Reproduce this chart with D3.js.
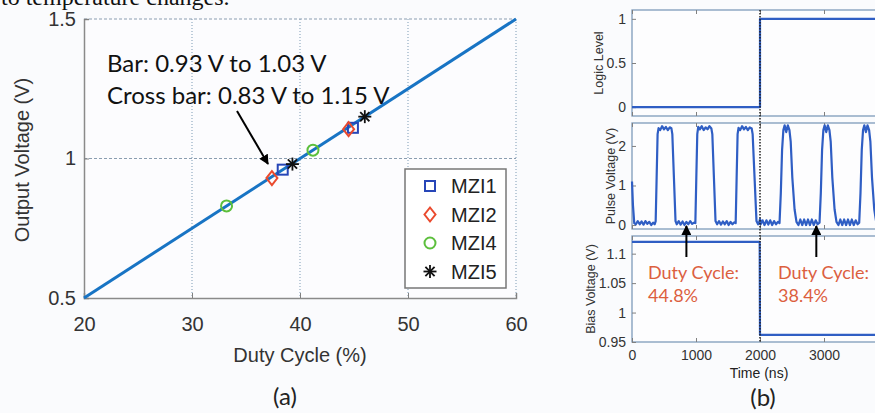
<html>
<head>
<meta charset="utf-8">
<script src="https://cdn.jsdelivr.net/npm/d3@7"></script>
<style>
  body { margin: 0; background: #fafbfd; }
  svg { display: block; }
  .tick line { stroke: #808080; }
</style>
</head>
<body>
<script>
// ---- panel (a) data ----
var dutyTicks = [20, 30, 40, 50, 60];
var voltTicks = [0.5, 1, 1.5];
var fitDuty = [20, 60];
var fitVolt = [0.5, 1.5];
var seriesNames = ["MZI1", "MZI2", "MZI4", "MZI5"];
var dutyMZI1 = [38.4, 44.9], voltMZI1 = [0.96, 1.11];
var dutyMZI2 = [37.4, 44.5], voltMZI2 = [0.93, 1.105];
var dutyMZI4 = [33.2, 41.2], voltMZI4 = [0.83, 1.03];
var dutyMZI5 = [39.3, 46.0], voltMZI5 = [0.98, 1.15];

// ---- panel (b) data ----
var timeTicks = [0, 1000, 2000, 3000];
var logicTicks = [0, 0.5, 1];
var pulseTicks = [0, 1, 2];
var biasTicks = [0.95, 1, 1.05, 1.1];
var logicT = [0, 2000, 2000, 4000], logicV = [0, 0, 1, 1];
var biasT = [0, 1995, 2000, 4000], biasV = [1.12, 1.12, 0.962, 0.962];
var pulseT = [0, 15, 35, 60, 90, 120, 150, 180, 210, 240, 270, 300, 330, 355, 370, 385, 400, 415, 440, 470, 500, 530, 560, 590, 615, 630, 655, 680,
  700, 730, 760, 790, 820, 850, 880, 910, 940, 970, 990, 1005, 1020, 1035, 1060, 1090, 1120, 1150, 1180, 1210, 1240, 1255, 1280, 1305,
  1330, 1360, 1390, 1420, 1450, 1480, 1510, 1540, 1570, 1600, 1620, 1635, 1650, 1665, 1690, 1720, 1750, 1780, 1810, 1840, 1870, 1885, 1915, 1945,
  1970, 1990, 2000, 2010, 2040, 2070, 2100, 2130, 2160, 2190, 2220, 2250, 2280, 2305, 2325, 2345, 2365, 2385, 2410, 2435, 2460, 2480, 2505, 2540,
  2570, 2600, 2630, 2660, 2690, 2720, 2750, 2780, 2810, 2840, 2870, 2900, 2930, 2950, 2970, 2990, 3010, 3035, 3060, 3085, 3105, 3130, 3165,
  3195, 3225, 3255, 3285, 3315, 3345, 3375, 3405, 3435, 3465, 3495, 3525, 3550, 3570, 3590, 3610, 3630, 3655, 3680, 3705, 3725, 3750, 3785, 3815, 3850];
var pulseV = [1.1, 0.5, 0.05, 0.02, 0.1, 0.02, 0.09, 0.01, 0.1, 0.03, 0.08, 0.0, 0.06, 0.02, 0.1, 1.2, 2.3, 2.45, 2.4, 2.5, 2.42, 2.48, 2.4, 2.47, 2.45, 2.3, 1.2, 0.1,
  0.02, 0.1, 0.01, 0.09, 0.0, 0.08, 0.02, 0.1, 0.03, 0.06, 0.05, 1.2, 2.3, 2.48, 2.42, 2.5, 2.4, 2.47, 2.42, 2.5, 2.44, 2.3, 1.2, 0.1,
  0.02, 0.1, 0.01, 0.09, 0.02, 0.1, 0.0, 0.08, 0.02, 0.07, 0.05, 1.2, 2.3, 2.46, 2.4, 2.5, 2.42, 2.48, 2.4, 2.47, 2.44, 2.3, 1.2, 0.1,
  0.02, 0.08, 0.15, 0.02, 0.12, 0.0, 0.12, 0.01, 0.12, 0.0, 0.1, 0.02, 0.08, 0.05, 0.8, 1.9, 2.4, 2.52, 2.35, 2.52, 2.4, 2.1, 1.2, 0.4,
  0.08, 0.0, 0.14, 0.0, 0.14, 0.0, 0.14, 0.0, 0.14, 0.0, 0.12, 0.02, 0.06, 0.8, 1.9, 2.4, 2.52, 2.35, 2.52, 2.4, 2.1, 1.2, 0.4,
  0.08, 0.0, 0.14, 0.0, 0.14, 0.0, 0.14, 0.0, 0.14, 0.0, 0.12, 0.02, 0.06, 0.8, 1.9, 2.4, 2.52, 2.35, 2.52, 2.4, 2.1, 1.2, 0.4, 0.08, 0.0];

var width = 875, height = 413;
var svg = d3.select("body").append("svg")
  .attr("width", width)
  .attr("height", height);

svg.append("defs").append("marker")
  .attr("id", "arrow")
  .attr("viewBox", "0 0 10 10")
  .attr("refX", 9).attr("refY", 5)
  .attr("markerWidth", 5).attr("markerHeight", 5)
  .attr("orient", "auto")
  .append("path").attr("d", "M0,0L10,5L0,10Z").attr("fill", "#000");

// caption line from the page above (cut by the top edge, as in the scan)
svg.append("text")
  .attr("x", 1).attr("y", 5)
  .style("font-family", "Liberation Serif")
  .style("font-size", "24px")
  .attr("fill", "#111")
  .text("to temperature changes.");

// ================= panel (a) =================
var xA = d3.scaleLinear().domain([20, 60]).range([84, 516]);
var yA = d3.scaleLinear().domain([0.5, 1.5]).range([298, 19]);
var gA = svg.append("g");

gA.append("rect")
  .attr("x", xA(20)).attr("y", yA(1.5))
  .attr("width", xA(60) - xA(20)).attr("height", yA(0.5) - yA(1.5))
  .attr("fill", "#fcfcfe");

// grid
gA.selectAll(".gx").data(dutyTicks.slice(1)).enter().append("line")
  .attr("x1", function(d) { return xA(d); }).attr("x2", function(d) { return xA(d); })
  .attr("y1", yA(1.5)).attr("y2", yA(0.5))
  .attr("stroke", "#7d9bb5").attr("stroke-width", 1).attr("stroke-dasharray", "1,2");
gA.selectAll(".gy").data(voltTicks.slice(1)).enter().append("line")
  .attr("x1", xA(20)).attr("x2", xA(60))
  .attr("y1", function(d) { return yA(d); }).attr("y2", function(d) { return yA(d); })
  .attr("stroke", "#8a9db0").attr("stroke-width", 1).attr("stroke-dasharray", "3,2");

// axes
var axA = gA.append("g").attr("transform", "translate(0," + yA(0.5) + ")")
  .call(d3.axisBottom(xA).tickValues(dutyTicks).tickSize(-5).tickPadding(19));
var ayA = gA.append("g").attr("transform", "translate(" + xA(20) + ",0)")
  .call(d3.axisLeft(yA).tickValues(voltTicks).tickSize(-5).tickPadding(8).tickFormat(d3.format("")));
[axA, ayA].forEach(function(a) {
  a.select(".domain").attr("stroke", "#8a8a8a").attr("stroke-width", 1.5);
  a.selectAll("text").style("font-family", "Liberation Sans, Arial").style("font-size", "20px").attr("fill", "#333");
});

gA.append("text")
  .attr("x", 300).attr("y", 362)
  .attr("text-anchor", "middle")
  .style("font-family", "Liberation Sans, Arial").style("font-size", "20px")
  .attr("fill", "#333").text("Duty Cycle (%)");
gA.append("text")
  .attr("transform", "translate(29,160) rotate(-90)")
  .attr("text-anchor", "middle")
  .style("font-family", "Liberation Sans, Arial").style("font-size", "20px")
  .attr("fill", "#333").text("Output Voltage (V)");

// fitted line
gA.append("line")
  .attr("x1", xA(fitDuty[0])).attr("y1", yA(fitVolt[0]))
  .attr("x2", xA(fitDuty[1])).attr("y2", yA(fitVolt[1]))
  .attr("stroke", "#1874c4").attr("stroke-width", 3);

// markers
function drawMarker(g, kind, cx, cy) {
  if (kind === "MZI1") {
    g.append("rect").attr("x", cx - 5).attr("y", cy - 5).attr("width", 10).attr("height", 10)
      .attr("fill", "none").attr("stroke", "#2746b8").attr("stroke-width", 2);
  } else if (kind === "MZI2") {
    g.append("path").attr("d", "M" + cx + "," + (cy - 7) + "L" + (cx + 5.5) + "," + cy + "L" + cx + "," + (cy + 7) + "L" + (cx - 5.5) + "," + cy + "Z")
      .attr("fill", "none").attr("stroke", "#ea4a2e").attr("stroke-width", 2);
  } else if (kind === "MZI4") {
    g.append("circle").attr("cx", cx).attr("cy", cy).attr("r", 5.5)
      .attr("fill", "none").attr("stroke", "#5cbf3c").attr("stroke-width", 2);
  } else {
    [0, 45, 90, 135].forEach(function(a) {
      var r = 6.5, t = a * Math.PI / 180;
      g.append("line")
        .attr("x1", cx - r * Math.cos(t)).attr("y1", cy - r * Math.sin(t))
        .attr("x2", cx + r * Math.cos(t)).attr("y2", cy + r * Math.sin(t))
        .attr("stroke", "#111").attr("stroke-width", 1.8);
    });
  }
}
var seriesDuty = [dutyMZI1, dutyMZI2, dutyMZI4, dutyMZI5];
var seriesVolt = [voltMZI1, voltMZI2, voltMZI4, voltMZI5];
seriesNames.forEach(function(name, i) {
  seriesDuty[i].forEach(function(d, j) {
    drawMarker(gA, name, xA(d), yA(seriesVolt[i][j]));
  });
});

// annotation
gA.append("text").attr("x", 107).attr("y", 72)
  .style("font-family", "Lato").style("font-size", "24px").attr("fill", "#111")
  .text("Bar: 0.93 V to 1.03 V");
gA.append("text").attr("x", 107).attr("y", 104)
  .style("font-family", "Lato").style("font-size", "24px").attr("fill", "#111")
  .text("Cross bar: 0.83 V to 1.15 V");
gA.append("line")
  .attr("x1", 237).attr("y1", 111).attr("x2", 268).attr("y2", 164)
  .attr("stroke", "#000").attr("stroke-width", 2)
  .attr("marker-end", "url(#arrow)");

// legend
var leg = gA.append("g");
leg.append("rect").attr("x", 405).attr("y", 169).attr("width", 101).attr("height", 119)
  .attr("fill", "#ffffff").attr("stroke", "#777").attr("stroke-width", 1.5);
seriesNames.forEach(function(name, i) {
  var yy = 186 + i * 28.5;
  drawMarker(leg, name, 430, yy);
  leg.append("text").attr("x", 451).attr("y", yy + 7)
    .style("font-family", "Liberation Sans, Arial").style("font-size", "20px")
    .attr("fill", "#222").text(name);
});

svg.append("text").attr("x", 285).attr("y", 405).attr("text-anchor", "middle")
  .style("font-family", "Lato").style("font-size", "24px").attr("fill", "#222").text("(a)");

// ================= panel (b) =================
var xB = d3.scaleLinear().domain([0, 4000]).range([632, 888]);
var frameColor = "#7f9bba";
var lineColor = "#2f5ec4";
var subplots = [
  { label: "Logic Level", y: d3.scaleLinear().domain([-0.1, 1.1]).range([116, 10]), ticks: logicTicks, t: logicT, v: logicV, lx: 599 },
  { label: "Pulse Voltage (V)", y: d3.scaleLinear().domain([-0.1, 2.58]).range([229, 123]), ticks: pulseTicks, t: pulseT, v: pulseV, lx: 611 },
  { label: "Bias Voltage (V)", y: d3.scaleLinear().domain([0.95, 1.13]).range([342, 236]), ticks: biasTicks, t: biasT, v: biasV, lx: 591 }
];

subplots.forEach(function(s, k) {
  var g = svg.append("g");
  var r = s.y.range();
  g.append("rect").attr("x", 632).attr("y", r[1]).attr("width", 300).attr("height", r[0] - r[1])
    .attr("fill", "#fdfdfe").attr("stroke", frameColor).attr("stroke-width", 1.3);

  var ay = g.append("g").attr("transform", "translate(632,0)")
    .call(d3.axisLeft(s.y).tickValues(s.ticks).tickSize(-4).tickPadding(6).tickFormat(d3.format("")));
  ay.select(".domain").remove();
  ay.selectAll("line").attr("stroke", frameColor);
  ay.selectAll("text").style("font-family", "Liberation Sans, Arial").style("font-size", "14px").attr("fill", "#333");

  var ax = g.append("g").attr("transform", "translate(0," + r[0] + ")")
    .call(d3.axisBottom(xB).tickValues(timeTicks).tickSize(-4).tickPadding(8).tickFormat(d3.format("d")));
  ax.select(".domain").remove();
  ax.selectAll("line").attr("stroke", frameColor);
  if (k < 2) ax.selectAll("text").remove();
  else ax.selectAll("text").style("font-family", "Liberation Sans, Arial").style("font-size", "14px").attr("fill", "#333");

  var axT = g.append("g").attr("transform", "translate(0," + r[1] + ")")
    .call(d3.axisTop(xB).tickValues(timeTicks).tickSize(-4));
  axT.select(".domain").remove();
  axT.selectAll("text").remove();
  axT.selectAll("line").attr("stroke", frameColor);

  var pts = s.t.map(function(t, i) { return [t, s.v[i]]; });
  g.append("path").datum(pts)
    .attr("d", d3.line().x(function(d) { return xB(d[0]); }).y(function(d) { return s.y(d[1]); }))
    .attr("fill", "none").attr("stroke", lineColor).attr("stroke-width", 2.2)
    .attr("stroke-linejoin", "round");

  g.append("text")
    .attr("transform", "translate(" + (s.lx + 4) + "," + ((r[0] + r[1]) / 2) + ") rotate(-90)")
    .attr("text-anchor", "middle")
    .style("font-family", "Liberation Sans, Arial").style("font-size", "12.5px")
    .attr("fill", "#333").text(s.label);
});

// switch marker
svg.append("line").attr("x1", xB(2000)).attr("x2", xB(2000)).attr("y1", 10).attr("y2", 342)
  .attr("stroke", "#222").attr("stroke-width", 1.5).attr("stroke-dasharray", "1.5,1.5");

svg.append("text").attr("x", 759).attr("y", 378).attr("text-anchor", "middle")
  .style("font-family", "Liberation Sans, Arial").style("font-size", "14px").attr("fill", "#222").text("Time (ns)");
svg.append("text").attr("x", 763).attr("y", 406).attr("text-anchor", "middle")
  .style("font-family", "Lato").style("font-size", "24px").attr("fill", "#222").text("(b)");

// duty cycle notes
var notes = [{ t: 850, label: "44.8%", tx: 648 }, { t: 2880, label: "38.4%", tx: 778 }];
notes.forEach(function(n) {
  svg.append("line").attr("x1", xB(n.t)).attr("x2", xB(n.t)).attr("y1", 257).attr("y2", 226)
    .attr("stroke", "#000").attr("stroke-width", 2).attr("marker-end", "url(#arrow)");
  svg.append("text").attr("x", n.tx).attr("y", 279)
    .style("font-family", "Lato").style("font-size", "18px").attr("fill", "#dc5f3e").text("Duty Cycle:");
  svg.append("text").attr("x", n.tx).attr("y", 302)
    .style("font-family", "Lato").style("font-size", "18px").attr("fill", "#dc5f3e").text(n.label);
});
</script>
</body>
</html>
